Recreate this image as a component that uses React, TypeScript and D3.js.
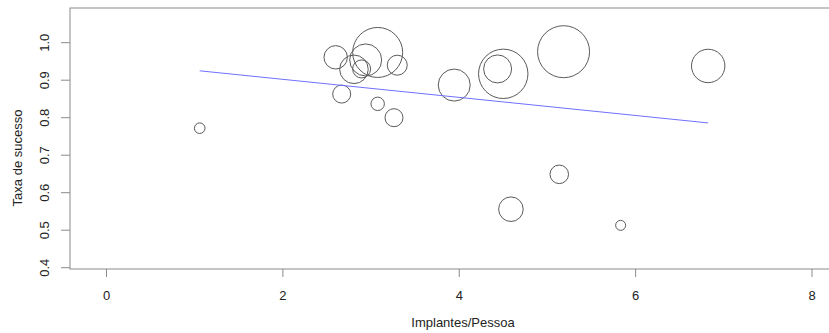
import React from "react";
import * as d3 from "d3";

// Implantes por pessoa, taxa de sucesso e tamanho do estudo (peso do círculo)
const implantesPorPessoa = [1.057, 2.599, 2.806, 2.939, 2.893, 3.075, 3.297, 2.667, 3.075, 3.26, 3.943, 4.499, 4.435, 5.183, 6.823, 5.134, 4.586, 5.83];
const taxaSucesso = [0.772, 0.961, 0.929, 0.954, 0.930, 0.974, 0.940, 0.863, 0.837, 0.800, 0.887, 0.917, 0.930, 0.976, 0.938, 0.649, 0.556, 0.513];
const pesoEstudo = [28, 137, 204, 256, 81, 625, 100, 81, 45, 81, 256, 610, 196, 676, 279, 86, 151, 25];

// Reta de regressão ajustada
const intercepto = 0.9505;
const inclinacao = -0.0241;

const xTicks = [0, 2, 4, 6, 8];
const yTicks = [0.4, 0.5, 0.6, 0.7, 0.8, 0.9, 1.0];

const W = 829;
const H = 333;
const left = 70;
const top = 8;
const bottom = 269;
const font = "'Liberation Sans', Arial, sans-serif";

export default function App() {
  const x = d3.scaleLinear().domain([0, 8]).range([106.5, 812]);
  const y = d3.scaleLinear().domain([0.4, 1.0]).range([267.7, 42.7]);
  const r = d3.scaleSqrt().domain([0, 676]).range([0, 26]);

  const [xMin, xMax] = d3.extent(implantesPorPessoa) as [number, number];
  const line = d3.line<number>()
    .x((d) => x(d))
    .y((d) => y(intercepto + inclinacao * d));

  return (
    <svg width={W} height={H} style={{ position: "absolute", left: 0, top: 0, background: "#fff" }}>
      <rect x={left} y={top} width={W + 10 - left} height={bottom - top} fill="none" stroke="#8a8a8a" strokeWidth={1} />
      {yTicks.map((t) => (
        <g key={t}>
          <line x1={left} x2={left - 9} y1={y(t)} y2={y(t)} stroke="#8a8a8a" />
          <text
            transform={`translate(${48.5},${y(t)}) rotate(-90)`}
            textAnchor="middle"
            fontFamily={font}
            fontSize={13}
            fill="#222"
          >
            {t.toFixed(1)}
          </text>
        </g>
      ))}
      {xTicks.map((t) => (
        <g key={t}>
          <line x1={x(t)} x2={x(t)} y1={bottom} y2={bottom + 8} stroke="#8a8a8a" />
          <text x={x(t)} y={300} textAnchor="middle" fontFamily={font} fontSize={13} fill="#222">
            {t}
          </text>
        </g>
      ))}
      <text x={463} y={327} textAnchor="middle" fontFamily={font} fontSize={13} fill="#222">
        Implantes/Pessoa
      </text>
      <text
        transform={`translate(${22},${158}) rotate(-90)`}
        textAnchor="middle"
        fontFamily={font}
        fontSize={13}
        fill="#222"
      >
        Taxa de sucesso
      </text>
      {implantesPorPessoa.map((v, i) => (
        <circle
          key={i}
          cx={x(v)}
          cy={y(taxaSucesso[i])}
          r={r(pesoEstudo[i])}
          fill="none"
          stroke="#5a5a5a"
          strokeWidth={1}
        />
      ))}
      <path d={line([xMin, xMax]) ?? ""} fill="none" stroke="#7070ff" strokeWidth={1} />
    </svg>
  );
}
